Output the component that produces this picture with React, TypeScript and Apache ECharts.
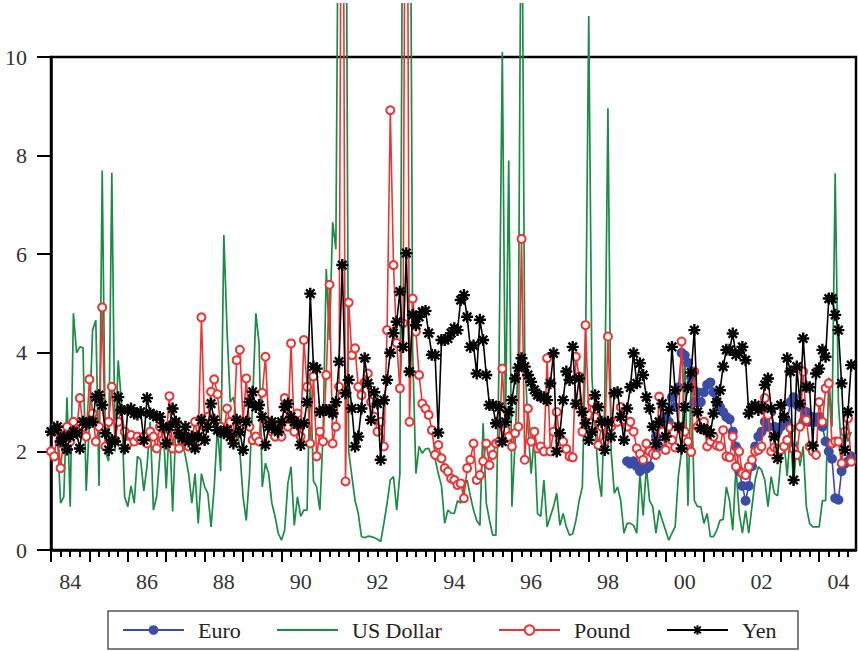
import React, { useEffect, useRef } from 'react';
import * as echarts from 'echarts';

// Monthly series, first value = January 1984 (Euro starts January 1999)
const START_YEAR = 1984;
const EURO_START_INDEX = 180;

const poundValues = [
  2.0, 1.9, 2.4, 1.66, 2.3, 2.5, 2.2, 2.6, 2.4, 3.08,
  2.5, 2.3, 3.46, 2.77, 2.2, 2.5, 4.92, 2.1, 2.6, 3.31,
  2.23, 2.6, 2.85, 2.4, 2.16, 2.33, 2.2, 2.3, 2.23, 2.3,
  2.16, 2.4, 2.3, 2.06, 2.5, 2.23, 2.3, 3.12, 2.06, 2.57,
  2.06, 2.23, 2.3, 2.1, 2.23, 2.6, 2.2, 4.72, 2.5, 2.7,
  3.21, 3.46, 3.16, 2.5, 2.4, 2.87, 2.6, 2.3, 3.85, 4.06,
  2.6, 3.48, 2.5, 2.23, 2.3, 2.2, 3.19, 3.92, 2.6, 2.4,
  2.3, 2.5, 2.3, 3.08, 2.5, 4.19, 2.4, 2.77, 2.3, 4.26,
  3.31, 2.16, 3.52, 1.9, 2.4, 2.2, 3.55, 5.38, 2.16, 2.5,
  3.31, 20, 1.39, 5.02, 3.95, 4.09, 3.31, 3.14, 3.4, 3.58,
  3.0, 2.7, 2.4, 2.6, 2.1, 4.46, 8.92, 5.78, 4.2, 3.28,
  4.6, 20, 2.6, 5.1, 4.43, 3.55, 2.97, 2.87, 2.74, 2.43,
  1.93, 2.13, 1.86, 1.66, 1.59, 1.45, 1.42, 1.32, 1.35, 1.05,
  1.66, 1.83, 2.16, 1.42, 1.52, 1.8, 2.16, 1.72, 1.93, 2.16,
  2.2, 3.68, 2.43, 2.3, 2.1, 2.37, 2.5, 6.31, 1.83, 2.87,
  2.2, 2.4, 2.06, 2.1, 2.0, 3.89, 2.0, 2.4, 2.8, 2.2,
  2.2, 2.05, 1.9, 1.88, 3.92, 3.52, 2.4, 4.56, 2.74, 3.0,
  2.7, 2.13, 2.5, 2.2, 4.33, 2.5, 2.6, 2.6, 2.9, 2.64,
  2.5, 2.6, 2.4, 2.06, 1.95, 1.83, 2.16, 2.0, 1.95, 1.93,
  3.11, 2.4, 2.03, 2.5, 2.23, 2.08, 2.5, 4.23, 2.4, 2.2,
  1.99, 3.62, 2.5, 2.57, 2.6, 2.1, 2.2, 2.3, 2.12, 2.1,
  2.43, 1.9, 1.88, 2.3, 1.69, 2.0, 1.55, 1.52, 1.69, 1.83,
  2.0, 2.03, 2.1, 3.08, 2.74, 2.0, 2.08, 2.05, 2.03, 2.1,
  2.23, 2.47, 2.05, 1.93, 2.5, 3.62, 2.64, 2.1, 2.0, 1.93,
  3.0, 2.6, 3.28, 3.38, 2.16, 2.2, 2.2, 1.76, 2.4, 2.67, 1.79,
];

const usDollarValues = [
  2.5, 2.6, 2.3, 0.95, 1.08, 3.1, 0.88, 4.8, 4.0, 4.12,
  4.1, 1.2, 2.6, 4.46, 4.66, 1.3, 7.7, 2.0, 1.8, 7.65,
  2.0, 3.85, 3.0, 1.08, 0.88, 1.3, 0.95, 1.9, 1.83, 1.2,
  1.7, 2.6, 0.81, 1.08, 1.9, 2.6, 1.25, 2.6, 0.78, 2.5,
  2.4, 2.2, 1.9, 1.55, 0.95, 1.55, 0.54, 1.55, 1.28, 1.15,
  0.47, 1.28, 2.5, 1.6, 6.39, 4.46, 3.0, 3.1, 2.6, 2.0,
  1.08, 0.6, 1.5, 3.0, 4.8, 4.19, 1.28, 1.76, 1.55, 0.95,
  0.68, 0.34, 0.2, 0.4, 1.35, 1.69, 0.5, 1.08, 0.68, 0.81,
  0.81, 3.6, 1.4, 1.28, 0.81, 2.37, 5.7, 4.26, 6.65, 6.1,
  16, 14, 17, 2.0, 1.5, 1.0, 0.74, 0.27, 0.25, 0.28,
  0.27, 0.25, 0.22, 0.17, 0.54, 0.95, 1.42, 1.49, 0.81, 1.55,
  16, 15, 18, 4.0, 1.55, 2.1, 1.96, 2.05, 2.06, 1.9,
  1.85, 1.55, 1.3, 0.54, 0.81, 0.75, 0.74, 1.0, 0.95, 1.28,
  1.42, 1.1, 0.81, 0.6, 0.5, 2.57, 0.95, 0.6, 0.3, 0.3,
  3.92, 10.1, 2.5, 7.9, 0.88, 2.2, 3.92, 15, 4.0, 2.5,
  1.55, 2.3, 0.74, 0.68, 1.42, 0.47, 0.68, 0.88, 1.15, 0.5,
  0.74, 0.47, 0.3, 0.33, 0.6, 1.0, 1.28, 4.0, 10.83, 3.5,
  2.5, 1.5, 1.08, 3.0, 8.96, 2.0, 1.15, 1.28, 1.0, 0.34,
  0.54, 0.54, 0.5, 0.34, 1.55, 0.7, 1.69, 1.0, 0.88, 0.34,
  0.81, 0.6, 0.4, 0.2, 0.34, 0.47, 1.5, 2.0, 4.0, 0.9,
  3.5, 1.0, 0.88, 0.88, 0.54, 0.74, 0.27, 0.27, 0.4, 0.6,
  0.62, 1.28, 1.0, 0.4, 1.69, 0.74, 0.34, 0.8, 0.34, 0.88,
  1.42, 1.69, 1.62, 1.42, 0.88, 1.49, 1.15, 1.1, 1.8, 2.2,
  1.5, 2.43, 1.3, 2.2, 1.7, 2.1, 0.88, 0.54, 0.47, 0.47,
  0.47, 1.0, 1.0, 3.5, 2.5, 7.64, 3.0, 2.0, 2.5, 2.2, 2.4,
];

const yenValues = [
  2.4, 2.43, 2.5, 2.2, 2.3, 2.04, 2.3, 2.4, 2.37, 2.06,
  2.6, 2.55, 2.6, 2.6, 3.1, 3.14, 2.94, 2.37, 2.03, 2.23,
  2.2, 3.1, 2.84, 2.06, 2.84, 2.87, 2.77, 2.75, 2.8, 2.23,
  3.08, 2.77, 2.74, 2.7, 2.7, 2.5, 2.16, 2.5, 2.87, 2.6,
  2.37, 2.27, 2.5, 2.2, 2.3, 2.06, 2.3, 2.64, 2.23, 2.5,
  2.97, 2.64, 2.43, 2.4, 2.37, 2.43, 2.3, 2.16, 2.64, 2.4,
  2.03, 2.6, 3.0, 3.21, 2.9, 2.94, 2.7, 2.13, 2.5, 2.6,
  2.45, 2.4, 2.6, 2.9, 2.97, 2.7, 2.6, 2.55, 2.13, 2.57,
  3.0, 5.2, 3.72, 3.68, 2.8, 2.84, 2.84, 2.84, 2.77, 3.0,
  3.82, 5.78, 3.18, 3.45, 2.87, 2.1, 2.3, 2.87, 3.89, 3.38,
  2.64, 3.2, 2.97, 1.83, 3.04, 3.45, 4.0, 4.4, 4.63, 5.24,
  4.12, 6.02, 3.62, 4.77, 4.56, 4.73, 4.83, 4.85, 4.4, 3.96,
  3.95, 2.38, 4.26, 4.26, 4.29, 4.4, 4.5, 4.46, 5.07, 5.17,
  4.73, 4.12, 4.15, 3.58, 4.67, 4.26, 3.55, 2.94, 2.94, 2.57,
  2.9, 2.2, 2.6, 2.8, 3.04, 3.48, 3.7, 3.89, 3.72, 3.55,
  3.41, 3.25, 3.14, 3.11, 3.1, 3.04, 3.38, 3.99, 2.0, 2.37,
  3.04, 3.62, 3.45, 4.12, 2.97, 3.48, 2.8, 2.57, 2.23, 2.4,
  3.14, 2.9, 2.6, 2.03, 2.6, 2.3, 3.18, 3.2, 2.7, 2.23,
  2.87, 3.3, 3.99, 3.38, 3.79, 3.55, 3.1, 2.87, 2.5, 2.16,
  2.6, 2.97, 2.3, 2.84, 4.12, 3.24, 2.5, 2.06, 2.9, 3.3,
  3.6, 4.46, 2.8, 2.47, 2.45, 2.43, 2.37, 2.77, 3.0, 3.24,
  3.72, 4.06, 4.06, 4.39, 3.96, 4.0, 4.12, 3.85, 2.77, 2.9,
  2.94, 2.84, 2.9, 3.35, 3.48, 2.87, 2.3, 1.86, 2.94, 2.7,
  3.89, 3.62, 1.42, 3.72, 2.97, 4.29, 3.31, 3.3, 2.12, 3.58,
  3.68, 4.06, 3.92, 5.1, 5.1, 4.77, 4.46, 3.38, 2.03, 2.8, 3.75,
];

const euroValues = [
  1.8, 1.75, 1.8, 1.7, 1.6, 1.75, 1.65, 1.7, 2.0, 2.3,
  2.1, 2.5, 2.7, 2.6, 3.1, 2.9, 3.3, 4.0, 3.95, 3.8,
  3.5, 3.0, 3.2, 3.0, 3.2, 3.35, 3.4, 3.2, 3.0, 2.9,
  2.8, 2.7, 2.65, 2.4, 2.1, 1.6, 1.3, 1.0, 1.3, 1.7,
  2.1, 2.3, 2.4, 2.6, 2.5, 2.8, 2.5, 2.4, 2.5, 2.6,
  2.6, 3.0, 3.1, 2.95, 2.9, 2.6, 2.8, 2.6, 2.7, 2.6,
  2.7, 2.5, 2.2, 2.0, 1.85, 1.05, 1.02, 1.6, 1.75, 1.8, 1.9,
];

const yearTickValues = [
  1984, 1985, 1986, 1987, 1988, 1989, 1990, 1991, 1992, 1993, 1994,
  1995, 1996, 1997, 1998, 1999, 2000, 2001, 2002, 2003, 2004,
];
const labelYears = [1984, 1986, 1988, 1990, 1992, 1994, 1996, 1998, 2000, 2002, 2004];
const yTickValues = [0, 2, 4, 6, 8, 10];

const X_MIN = 1984;
const X_MAX = 1984 + 251.5 / 12;

const FONT = 'Liberation Serif';
const FONT_SIZE = 22;
const COLORS = {
  euro: '#3a4ca6',
  usd: '#1b8b45',
  pound: '#ee3333',
  yen: '#000000',
};

function toPairs(values: number[], startIndex: number): number[][] {
  return values.map((v, i) => [START_YEAR + (startIndex + i) / 12, v]);
}

function asteriskPath(): string {
  const w = 10;
  const L = 50;
  let d = '';
  for (let i = 0; i < 4; i++) {
    const a = (i * Math.PI) / 4;
    const c = Math.cos(a);
    const s = Math.sin(a);
    const px = -s * w;
    const py = c * w;
    const x1 = c * L;
    const y1 = s * L;
    const pts = [
      [x1 + px, y1 + py],
      [x1 - px, y1 - py],
      [-x1 - px, -y1 - py],
      [-x1 + px, -y1 + py],
    ];
    d += 'M' + pts.map((p) => p[0].toFixed(2) + ' ' + p[1].toFixed(2)).join(' L') + ' Z ';
  }
  return 'path://' + d;
}

export default function App() {
  const ref = useRef<HTMLDivElement>(null);

  useEffect(() => {
    if (!ref.current) return;
    const chart = echarts.init(ref.current, null, { renderer: 'svg' });
    const star = asteriskPath();

    const minorTicks: number[] = [];
    for (const y of yearTickValues) {
      for (let q = 1; q < 4; q++) {
        const v = y + q / 4;
        if (v < X_MAX) minorTicks.push(v);
      }
    }
    const labelValues = labelYears.map((y) => y + 0.5);

    const legendBase = {
      orient: 'horizontal' as const,
      top: 616,
      padding: 0,
      itemWidth: 61,
      itemHeight: 12,
      selectedMode: false,
      textStyle: {
        fontFamily: FONT,
        fontSize: FONT_SIZE,
        color: '#222',
        padding: [0, 0, 0, 9],
      },
    };

    chart.setOption({
      animation: false,
      backgroundColor: '#ffffff',
      textStyle: { fontFamily: FONT },
      grid: {
        left: 51,
        right: 2,
        top: 54,
        bottom: 101,
        show: true,
        borderColor: '#000',
        borderWidth: 2.5,
        backgroundColor: 'transparent',
      },
      xAxis: [
        {
          type: 'value',
          min: X_MIN,
          max: X_MAX,
          position: 'bottom',
          axisLine: { show: true, onZero: false, lineStyle: { color: '#000', width: 2.5 } },
          axisTick: {
            show: true,
            inside: false,
            length: 12,
            lineStyle: { color: '#000', width: 2 },
            customValues: yearTickValues,
          },
          axisLabel: {
            show: true,
            margin: 20,
            fontFamily: FONT,
            fontSize: FONT_SIZE,
            color: '#333',
            customValues: labelValues,
            formatter: (v: number) => String(Math.floor(v) % 100).padStart(2, '0'),
          },
          splitLine: { show: false },
        },
        {
          type: 'value',
          min: X_MIN,
          max: X_MAX,
          position: 'bottom',
          axisLine: { show: false },
          axisTick: {
            show: true,
            inside: false,
            length: 7,
            lineStyle: { color: '#000', width: 2 },
            customValues: minorTicks,
          },
          axisLabel: { show: false },
          splitLine: { show: false },
        },
      ],
      yAxis: {
        type: 'value',
        min: 0,
        max: 10,
        interval: 2,
        axisLine: { show: true, onZero: false, lineStyle: { color: '#000', width: 2.5 } },
        axisTick: {
          show: true,
          inside: false,
          length: 14,
          lineStyle: { color: '#000', width: 2 },
          customValues: yTickValues,
        },
        axisLabel: {
          margin: 24,
          fontFamily: FONT,
          fontSize: FONT_SIZE,
          color: '#333',
          customValues: yTickValues,
        },
        splitLine: { show: false },
      },
      legend: [
        { ...legendBase, left: 122, data: ['Euro'] },
        {
          ...legendBase,
          left: 277,
          data: ['US Dollar'],
          icon: 'rect',
          itemHeight: 2,
        },
        { ...legendBase, left: 498, data: ['Pound'] },
        { ...legendBase, left: 666, data: ['Yen'] },
      ],
      graphic: [
        {
          type: 'rect',
          shape: { x: 108, y: 608, width: 690, height: 38 },
          style: { fill: 'none', stroke: '#555', lineWidth: 1.5 },
          silent: true,
        },
      ],
      series: [
        {
          name: 'US Dollar',
          type: 'line',
          data: toPairs(usDollarValues, 0),
          symbol: 'none',
          showSymbol: false,
          clip: false,
          z: 1,
          color: COLORS.usd,
          lineStyle: { color: COLORS.usd, width: 1.7 },
        },
        {
          name: 'Euro',
          type: 'line',
          data: toPairs(euroValues, EURO_START_INDEX),
          symbol: 'circle',
          symbolSize: 10,
          clip: false,
          z: 2,
          color: COLORS.euro,
          lineStyle: { color: COLORS.euro, width: 1.6 },
          itemStyle: { color: COLORS.euro },
        },
        {
          name: 'Pound',
          type: 'line',
          data: toPairs(poundValues, 0),
          symbol: 'emptyCircle',
          symbolSize: 8,
          clip: false,
          z: 3,
          color: COLORS.pound,
          lineStyle: { color: COLORS.pound, width: 1.6 },
          itemStyle: { color: COLORS.pound, borderColor: COLORS.pound, borderWidth: 2 },
        },
        {
          name: 'Yen',
          type: 'line',
          data: toPairs(yenValues, 0),
          symbol: star,
          symbolSize: 12,
          clip: false,
          z: 4,
          color: COLORS.yen,
          lineStyle: { color: COLORS.yen, width: 1.6 },
          itemStyle: { color: COLORS.yen },
        },
      ],
    });

    return () => {
      chart.dispose();
    };
  }, []);

  return (
    <div
      ref={ref}
      style={{
        position: 'absolute',
        left: 0,
        top: 3,
        width: 858,
        height: 648,
        overflow: 'hidden',
        background: '#fff',
      }}
    />
  );
}
